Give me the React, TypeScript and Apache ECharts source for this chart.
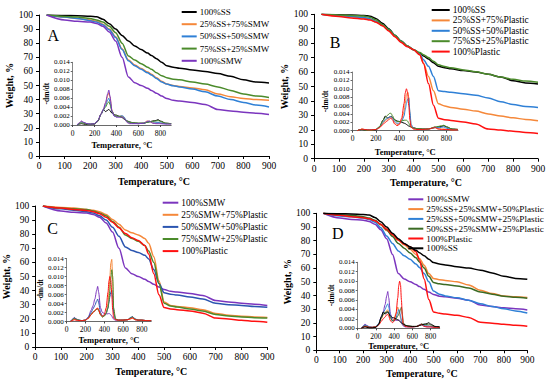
import React, { useEffect, useRef } from "react";
import * as echarts from "echarts";

const FONT = "'Liberation Serif', 'Times New Roman', serif";

// ---------- TGA (main plots) ----------
const TEMPS = [30, 100, 150, 200, 225, 250, 275, 300, 325, 350, 375, 400, 425, 440, 460, 480, 500, 525, 550, 600, 650, 700, 750, 800, 850, 900];

const TGA_SS = [100, 99.7, 99.5, 99.2, 98.7, 97, 93.8, 90, 85.5, 81.5, 78, 75.5, 73, 71.2, 69, 66.5, 64, 63, 62.3, 61, 60, 58.5, 56.5, 54, 52.5, 51.8];
const TGA_SMW = [100, 96.5, 95.5, 95, 94, 92, 88, 81.5, 70, 56, 52, 50, 48, 46.5, 44.5, 42.5, 40.8, 39.5, 39, 38, 36.5, 33, 32, 31, 30.3, 29.5];
const TGA_PLASTIC = [100, 98.5, 97.5, 96.8, 96, 94.5, 92, 88.5, 84.5, 80.5, 77.5, 75.5, 72, 66, 52, 37, 28, 27, 26.5, 25.5, 24, 20.5, 19.8, 19, 18.2, 17.5];

const TGA_A_25SS75SMW = [100, 98.5, 97.5, 96.5, 95.5, 93.5, 90, 84.5, 76, 68, 64.5, 62, 59.5, 58, 55.5, 53, 51, 50, 49.3, 48.3, 47, 44, 42, 40.8, 40, 39.5];
const TGA_A_50SS50SMW = [100, 98.5, 97.5, 96, 95, 93, 89.5, 84, 75.5, 67.5, 64, 61.5, 59, 57.5, 55, 52.5, 51, 49.8, 49, 47.5, 45.5, 42.5, 40, 38, 36.2, 34.8];
const TGA_A_75SS25SMW = [100, 99, 98.5, 97.5, 96.5, 95, 92, 87.5, 80, 71, 68, 65.5, 63, 61.5, 59, 57, 55.5, 54.5, 54, 52.5, 51, 49, 46.5, 44, 42.5, 41.5];

const TGA_B_25SS75P = [100, 99, 98.5, 97.5, 96.5, 94.5, 92, 89, 85, 81, 78, 75.5, 72, 66, 57, 47, 38, 36.5, 35.5, 34.3, 33, 31, 29.5, 28.3, 27.2, 26.3];
const TGA_B_50SS50P = [100, 99, 98.5, 97.8, 97, 95, 92.5, 89.5, 85.5, 81.5, 78, 75.5, 72.5, 68.5, 64, 57, 47, 46.5, 46, 45, 44, 42, 39.5, 37.5, 36.2, 35.5];
const TGA_B_75SS25P = [100, 99.5, 99.2, 98.8, 98, 96, 93, 89.5, 85.5, 81.5, 78, 75.5, 73.5, 72, 70, 67.5, 65, 63.8, 63, 61.5, 60.2, 58.5, 56.5, 55, 53.8, 53];

const TGA_C_25SMW75P = [100, 99, 98.5, 97.5, 97, 96, 94, 90.5, 87, 83, 81, 79.5, 77, 73.5, 64, 47, 32, 29.5, 28.8, 27.8, 26.5, 23.8, 22.5, 21.8, 21.3, 21];
const TGA_C_50SMW50P = [100, 98, 97, 96, 95, 93, 90, 85, 78.5, 71, 68.5, 67, 65, 62.5, 55, 45, 38.5, 37.5, 36.8, 35.5, 34, 31, 30, 29.5, 28.8, 28.2];
const TGA_C_75SMW25P = [100, 98.5, 98, 97.5, 96.5, 95, 93, 89, 85, 79.5, 77, 75, 72, 68, 60, 45, 31, 29, 28.3, 27, 25.5, 23, 22, 21.3, 20.8, 20.5];

const TGA_D_25SS25SMW50P = [100, 98.5, 98, 97, 96, 94.5, 91.5, 87.5, 84, 80.3, 77, 73.7, 70, 67, 62, 56, 52.5, 51.5, 51, 50, 47.7, 43.8, 41.5, 39.7, 39, 38.5];
const TGA_D_25SS50SMW25P = [100, 98, 97.5, 96.5, 95.5, 93.5, 89.5, 83.5, 78, 72.5, 69, 66.4, 63, 60.5, 56, 50, 43.3, 41, 39.7, 38.3, 36.5, 34, 32, 30.3, 28.7, 27.2];
const TGA_D_50SS25SMW25P = [100, 99, 98.5, 97.5, 96.5, 95, 92, 88, 83, 78, 74.5, 71, 67.5, 64.5, 60, 54, 49.5, 48.5, 48, 47, 45.5, 42.5, 41, 39.5, 38.7, 38];

// ---------- DTG (insets), values in units of 0.001 ----------
const DTG_UNIT = 0.001;
const DTG_T = [40, 60, 80, 100, 130, 160, 200, 230, 260, 280, 300, 320, 330, 340, 360, 380, 400, 420, 440, 450, 460, 470, 480, 490, 500, 520, 550, 600, 650, 680, 700, 730, 760, 780, 800, 850, 900];

const DTG_SS = [0, 0.2, 0.3, 0.2, 0.1, 0.1, 0.2, 0.8, 2.5, 3.5, 3.0, 3.3, 3.5, 3.2, 2.6, 2.3, 2.2, 2.0, 1.8, 1.7, 1.5, 1.3, 1.1, 1.0, 0.9, 0.7, 0.5, 0.4, 0.4, 0.6, 0.7, 0.9, 1.0, 1.2, 0.9, 0.4, 0.3];
const DTG_SMW = [0, 0.5, 0.9, 0.6, 0.3, 0.2, 0.3, 1.0, 2.5, 3.5, 5.0, 7.0, 7.8, 6.5, 3.0, 2.0, 1.8, 1.7, 1.7, 1.8, 1.7, 1.5, 1.2, 0.8, 0.5, 0.3, 0.3, 0.3, 0.4, 0.8, 0.9, 0.4, 0.3, 0.3, 0.3, 0.2, 0.2];
const DTG_PLASTIC = [0, 0.2, 0.4, 0.3, 0.2, 0.2, 0.3, 0.7, 1.5, 2.0, 2.4, 2.9, 3.0, 2.6, 1.6, 1.2, 1.5, 3.0, 6.5, 9.0, 10.0, 9.2, 6.0, 2.5, 0.8, 0.4, 0.3, 0.3, 0.4, 0.6, 0.8, 0.4, 0.3, 0.3, 0.3, 0.2, 0.2];

const DTG_A_25SS75SMW = [0, 0.4, 0.8, 0.5, 0.3, 0.2, 0.3, 1.0, 2.4, 3.4, 4.8, 6.6, 7.2, 6.2, 3.2, 2.0, 1.8, 1.9, 2.0, 2.0, 1.9, 1.7, 1.3, 0.9, 0.6, 0.4, 0.4, 0.3, 0.4, 0.9, 0.8, 0.5, 0.4, 0.5, 0.4, 0.3, 0.3];
const DTG_A_50SS50SMW = [0, 0.3, 0.7, 0.5, 0.3, 0.2, 0.3, 1.0, 2.4, 3.3, 4.4, 5.6, 6.0, 5.2, 3.0, 2.0, 1.8, 1.9, 2.0, 2.1, 2.0, 1.8, 1.4, 1.0, 0.7, 0.5, 0.4, 0.3, 0.4, 0.6, 0.8, 0.7, 0.6, 0.6, 0.5, 0.3, 0.3];
const DTG_A_75SS25SMW = [0, 0.3, 0.5, 0.4, 0.2, 0.2, 0.3, 0.9, 2.5, 3.4, 4.0, 4.9, 5.2, 4.6, 3.0, 2.2, 2.0, 1.9, 1.9, 1.8, 1.7, 1.5, 1.2, 1.0, 0.8, 0.6, 0.5, 0.4, 0.4, 0.6, 0.7, 0.8, 0.9, 1.0, 0.8, 0.4, 0.3];

const DTG_B_25SS75P = [0, 0.2, 0.4, 0.3, 0.2, 0.2, 0.3, 0.8, 1.8, 2.4, 2.8, 3.2, 3.3, 3.0, 2.0, 1.5, 1.6, 2.5, 4.5, 6.5, 8.5, 9.2, 8.0, 4.0, 1.2, 0.5, 0.4, 0.3, 0.4, 0.6, 0.8, 0.5, 0.4, 0.4, 0.3, 0.2, 0.2];
const DTG_B_50SS50P = [0, 0.2, 0.3, 0.3, 0.2, 0.2, 0.3, 0.9, 2.0, 2.7, 3.0, 3.3, 3.3, 3.0, 2.2, 1.8, 1.8, 2.2, 3.5, 5.0, 6.5, 7.5, 7.8, 4.5, 1.5, 0.6, 0.4, 0.3, 0.4, 0.6, 0.8, 0.7, 0.8, 0.9, 0.6, 0.3, 0.2];
const DTG_B_75SS25P = [0, 0.2, 0.3, 0.2, 0.1, 0.1, 0.3, 1.0, 2.4, 3.2, 3.7, 4.2, 4.1, 3.6, 2.6, 2.2, 2.2, 2.3, 2.5, 2.5, 2.5, 2.3, 1.8, 1.2, 0.8, 0.6, 0.5, 0.4, 0.4, 0.7, 0.9, 1.0, 1.2, 1.3, 1.0, 0.4, 0.3];

const DTG_C_25SMW75P = [0, 0.3, 0.5, 0.4, 0.2, 0.2, 0.3, 0.7, 1.5, 2.0, 2.4, 2.8, 2.9, 2.5, 1.5, 1.0, 1.2, 2.0, 4.0, 6.5, 10.0, 13.0, 13.8, 9.0, 2.5, 0.5, 0.3, 0.3, 0.4, 0.6, 0.7, 0.4, 0.3, 0.3, 0.3, 0.2, 0.2];
const DTG_C_50SMW50P = [0, 0.4, 0.8, 0.5, 0.3, 0.2, 0.3, 0.9, 2.0, 2.8, 3.6, 4.6, 5.0, 4.2, 2.0, 1.2, 1.3, 1.8, 3.0, 4.2, 5.5, 6.5, 7.0, 5.0, 1.8, 0.5, 0.3, 0.3, 0.4, 0.9, 1.1, 0.6, 0.3, 0.3, 0.3, 0.2, 0.2];
const DTG_C_75SMW25P = [0, 0.4, 0.7, 0.5, 0.3, 0.2, 0.3, 0.8, 1.6, 2.1, 2.4, 2.7, 2.8, 2.4, 1.5, 1.0, 1.2, 1.8, 3.0, 4.5, 7.0, 9.5, 11.5, 10.0, 3.0, 0.6, 0.3, 0.3, 0.4, 0.8, 1.0, 0.5, 0.3, 0.3, 0.3, 0.2, 0.2];

const DTG_D_25SS25SMW50P = [0, 0.3, 0.5, 0.4, 0.2, 0.2, 0.3, 0.9, 2.0, 2.8, 3.3, 3.8, 3.9, 3.4, 2.2, 1.6, 2.0, 3.2, 4.5, 4.0, 3.0, 2.2, 1.6, 1.2, 0.8, 0.5, 0.4, 0.3, 0.4, 0.7, 0.9, 0.6, 0.5, 0.5, 0.4, 0.3, 0.2];
const DTG_D_25SS50SMW25P = [0, 0.4, 0.7, 0.5, 0.3, 0.2, 0.3, 1.0, 2.3, 3.2, 4.0, 4.9, 5.2, 4.5, 2.6, 1.6, 1.6, 2.2, 3.4, 4.0, 3.6, 2.6, 1.6, 1.0, 0.7, 0.5, 0.4, 0.3, 0.4, 0.6, 0.8, 0.6, 0.5, 0.5, 0.4, 0.3, 0.2];
const DTG_D_50SS25SMW25P = [0, 0.3, 0.5, 0.4, 0.2, 0.2, 0.3, 0.9, 2.2, 3.0, 3.3, 3.5, 3.5, 3.1, 2.2, 1.6, 1.6, 2.0, 2.6, 3.0, 3.5, 4.0, 4.5, 3.0, 1.2, 0.6, 0.5, 0.4, 0.4, 0.7, 0.9, 0.8, 0.8, 0.9, 0.7, 0.3, 0.2];

// ---------- colours ----------
const BLACK = "#000000";
const ORANGE = "#F5883A";
const BLUE = "#2F80D6";
const BLUE_C = "#2B55B0";
const GREEN = "#4B8B2B";
const GREEN_D = "#3B6B24";
const PURPLE = "#7B35BE";
const RED = "#FF1010";

type Line = { name: string; color: string; tga: number[]; dtg: number[] };

const PANELS: {
  letter: string;
  lines: Line[];
  main: { left: number; top: number; width: number; height: number; xGap: number; yGap: number };
  inset: { left: number; top: number; width: number; height: number; xGap: number; yGap: number };
  legend: { left: number; top: number; gap: number; fontSize: number; itemWidth: number };
  pos: [number, number];
}[] = [
  {
    letter: "A",
    lines: [
      { name: "100%SS", color: BLACK, tga: TGA_SS, dtg: DTG_SS },
      { name: "25%SS+75%SMW", color: ORANGE, tga: TGA_A_25SS75SMW, dtg: DTG_A_25SS75SMW },
      { name: "50%SS+50%SMW", color: BLUE, tga: TGA_A_50SS50SMW, dtg: DTG_A_50SS50SMW },
      { name: "75%SS+25%SMW", color: GREEN, tga: TGA_A_75SS25SMW, dtg: DTG_A_75SS25SMW },
      { name: "100%SMW", color: PURPLE, tga: TGA_SMW, dtg: DTG_SMW },
    ],
    main: { left: 39, top: 15, width: 230, height: 141, xGap: 20, yGap: 20 },
    inset: { left: 72.7, top: 62.3, width: 98.5, height: 62.7, xGap: 15, yGap: 17 },
    legend: { left: 181.7, top: 7, gap: 2.2, fontSize: 9, itemWidth: 15 },
    pos: [53.3, 35],
  },
  {
    letter: "B",
    lines: [
      { name: "100%SS", color: BLACK, tga: TGA_SS, dtg: DTG_SS },
      { name: "25%SS+75%Plastic", color: ORANGE, tga: TGA_B_25SS75P, dtg: DTG_B_25SS75P },
      { name: "50%SS+50%Plastic", color: BLUE, tga: TGA_B_50SS50P, dtg: DTG_B_50SS50P },
      { name: "75%SS+25%Plastic", color: GREEN, tga: TGA_B_75SS25P, dtg: DTG_B_75SS25P },
      { name: "100%Plastic", color: RED, tga: TGA_PLASTIC, dtg: DTG_PLASTIC },
    ],
    main: { left: 314, top: 14.3, width: 224, height: 144.4, xGap: 19, yGap: 20 },
    inset: { left: 352.5, top: 72, width: 105.5, height: 58.7, xGap: 17, yGap: 16 },
    legend: { left: 431.7, top: 5, gap: 0.4, fontSize: 9.5, itemWidth: 18 },
    pos: [335, 42],
  },
  {
    letter: "C",
    lines: [
      { name: "100%SMW", color: PURPLE, tga: TGA_SMW, dtg: DTG_SMW },
      { name: "25%SMW+75%Plastic", color: ORANGE, tga: TGA_C_25SMW75P, dtg: DTG_C_25SMW75P },
      { name: "50%SMW+50%Plastic", color: BLUE_C, tga: TGA_C_50SMW50P, dtg: DTG_C_50SMW50P },
      { name: "75%SMW+25%Plastic", color: GREEN, tga: TGA_C_75SMW25P, dtg: DTG_C_75SMW25P },
      { name: "100%Plastic", color: RED, tga: TGA_PLASTIC, dtg: DTG_PLASTIC },
    ],
    main: { left: 32, top: 206, width: 235.3, height: 141, xGap: 19, yGap: 21 },
    inset: { left: 66.7, top: 258.5, width: 84.5, height: 63, xGap: 14, yGap: 15 },
    legend: { left: 162.7, top: 197.7, gap: 2.1, fontSize: 9.3, itemWidth: 15.6 },
    pos: [52.7, 228.3],
  },
  {
    letter: "D",
    lines: [
      { name: "100%SMW", color: PURPLE, tga: TGA_SMW, dtg: DTG_SMW },
      { name: "25%SS+25%SMW+50%Plastic", color: ORANGE, tga: TGA_D_25SS25SMW50P, dtg: DTG_D_25SS25SMW50P },
      { name: "25%SS+50%SMW+25%Plastic", color: BLUE, tga: TGA_D_25SS50SMW25P, dtg: DTG_D_25SS50SMW25P },
      { name: "50%SS+25%SMW+25%Plastic", color: GREEN_D, tga: TGA_D_50SS25SMW25P, dtg: DTG_D_50SS25SMW25P },
      { name: "100%Plastic", color: RED, tga: TGA_PLASTIC, dtg: DTG_PLASTIC },
      { name: "100%SS", color: BLACK, tga: TGA_SS, dtg: DTG_SS },
    ],
    main: { left: 316.3, top: 213.3, width: 211, height: 137, xGap: 18, yGap: 20 },
    inset: { left: 357.7, top: 262.3, width: 82, height: 66, xGap: 12, yGap: 15 },
    legend: { left: 408.3, top: 194.3, gap: -0.2, fontSize: 9.2, itemWidth: 15 },
    pos: [337.7, 233.3],
  },
];

function buildOption() {
  const grid: any[] = [];
  const xAxis: any[] = [];
  const yAxis: any[] = [];
  const series: any[] = [];
  const legend: any[] = [];
  const graphic: any[] = [];

  PANELS.forEach((p) => {
    const mi = grid.length;
    grid.push({ left: p.main.left, top: p.main.top, width: p.main.width, height: p.main.height, containLabel: false });
    const ii = grid.length;
    grid.push({ left: p.inset.left, top: p.inset.top, width: p.inset.width, height: p.inset.height, containLabel: false });

    xAxis.push({
      gridIndex: mi,
      type: "value",
      min: 0,
      max: 900,
      interval: 100,
      axisLine: { show: true, lineStyle: { color: "#000", width: 1 } },
      axisTick: { show: true, length: 3, lineStyle: { color: "#000" } },
      axisLabel: { fontFamily: FONT, fontSize: 9.5, color: "#000", margin: 5 },
      splitLine: { show: false },
      name: "Temperature, °C",
      nameLocation: "middle",
      nameGap: p.main.xGap,
      nameTextStyle: { fontFamily: FONT, fontSize: 10, fontWeight: "bold", color: "#000" },
    });
    yAxis.push({
      gridIndex: mi,
      type: "value",
      min: 0,
      max: 100,
      interval: 10,
      axisLine: { show: true, lineStyle: { color: "#000", width: 1 } },
      axisTick: { show: true, length: 3, lineStyle: { color: "#000" } },
      axisLabel: { fontFamily: FONT, fontSize: 9.5, color: "#000", margin: 6 },
      splitLine: { show: false },
      name: "Weight, %",
      nameLocation: "middle",
      nameGap: p.main.yGap,
      nameRotate: 90,
      nameTextStyle: { fontFamily: FONT, fontSize: 10, fontWeight: "bold", color: "#000" },
    });
    xAxis.push({
      gridIndex: ii,
      type: "value",
      min: 0,
      max: 900,
      interval: 200,
      axisLine: { show: true, lineStyle: { color: "#444", width: 0.8 } },
      axisTick: { show: true, length: 2, lineStyle: { color: "#444" } },
      axisLabel: { fontFamily: FONT, fontSize: 7.5, color: "#000", margin: 4, showMaxLabel: false },
      splitLine: { show: false },
      name: "Temperature, °C",
      nameLocation: "middle",
      nameGap: p.inset.xGap,
      nameTextStyle: { fontFamily: FONT, fontSize: 8.5, fontWeight: "bold", color: "#000" },
    });
    yAxis.push({
      gridIndex: ii,
      type: "value",
      min: 0,
      max: 0.014,
      interval: 0.002,
      axisLine: { show: true, lineStyle: { color: "#666", width: 0.8 } },
      axisTick: { show: true, length: 2, lineStyle: { color: "#666" } },
      axisLabel: { fontFamily: FONT, fontSize: 7, color: "#000", margin: 3, formatter: (v: number) => v.toFixed(3) },
      splitLine: { show: false },
      name: "-dm/dt",
      nameLocation: "middle",
      nameGap: p.inset.yGap,
      nameRotate: 90,
      nameTextStyle: { fontFamily: FONT, fontSize: 7.5, fontWeight: "bold", color: "#000" },
    });

    p.lines.forEach((l) => {
      series.push({
        type: "line",
        name: l.name,
        xAxisIndex: mi,
        yAxisIndex: mi,
        data: TEMPS.map((t, i) => [t, l.tga[i]]),
        symbol: "none",
        showSymbol: false,
        smooth: 0.3,
        smoothMonotone: "x",
        lineStyle: { color: l.color, width: 1.5 },
        itemStyle: { color: l.color },
        silent: true,
      });
      series.push({
        type: "line",
        name: l.name,
        xAxisIndex: ii,
        yAxisIndex: ii,
        data: DTG_T.map((t, i) => [t, l.dtg[i] * DTG_UNIT]),
        symbol: "none",
        showSymbol: false,
        smooth: 0.25,
        smoothMonotone: "x",
        lineStyle: { color: l.color, width: 1 },
        itemStyle: { color: l.color },
        silent: true,
      });
    });

    legend.push({
      orient: "vertical",
      left: p.legend.left,
      top: p.legend.top,
      icon: "rect",
      itemWidth: p.legend.itemWidth,
      itemHeight: 2,
      itemGap: p.legend.gap,
      padding: 0,
      selectedMode: false,
      data: p.lines.map((l) => l.name),
      textStyle: { fontFamily: FONT, fontSize: p.legend.fontSize, color: "#000", lineHeight: 10, padding: [0, 0, 0, -2] },
    });

    graphic.push({
      type: "text",
      x: p.pos[0],
      y: p.pos[1],
      style: {
        text: p.letter,
        fill: "#000",
        font: `16px 'Liberation Serif', serif`,
        align: "center",
        verticalAlign: "middle",
      },
    });
  });

  return { animation: false, backgroundColor: "#fff", grid, xAxis, yAxis, series, legend, graphic };
}

export default function App() {
  const ref = useRef<HTMLDivElement>(null);
  useEffect(() => {
    document.body.style.margin = "0";
    const chart = echarts.init(ref.current!, null, { renderer: "svg" });
    chart.setOption(buildOption() as any);
    return () => chart.dispose();
  }, []);
  return <div ref={ref} style={{ width: 550, height: 382 }} />;
}
